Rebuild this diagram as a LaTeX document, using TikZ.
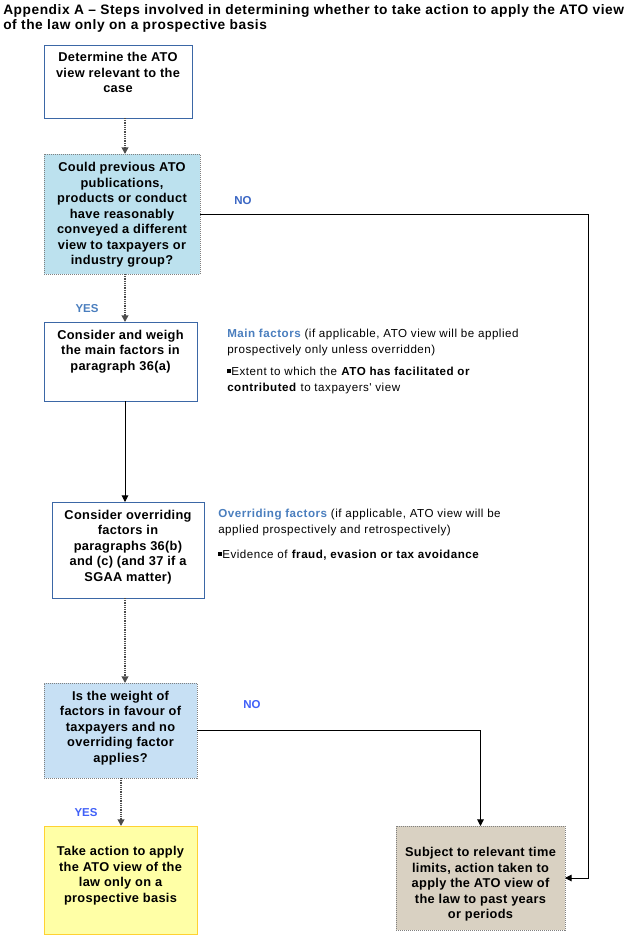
\documentclass[tikz,border=0pt]{standalone}
\usepackage{fontspec}
\setmainfont{Liberation Sans}
\newfontfamily\ttlfont[LetterSpace=4]{Liberation Sans}
\newfontfamily\sidefont[LetterSpace=4.5]{Liberation Sans}
\newfontfamily\boxfont[LetterSpace=2.5]{Liberation Sans}
\usetikzlibrary{arrows.meta}
\definecolor{bordblue}{HTML}{3B67A6}
\definecolor{fillcyan}{HTML}{BCE1EE}
\definecolor{fillblue}{HTML}{C7E0F4}
\definecolor{fillyel}{HTML}{FFFFA6}
\definecolor{bordyel}{HTML}{FFD232}
\definecolor{filltan}{HTML}{D9D1C2}
\definecolor{headblue}{HTML}{4A7EBE}
\definecolor{yesno}{HTML}{3A66C4}
\definecolor{yesnob}{HTML}{4060F8}
\newcommand\boxtxt[4]{\parbox[c][#2][t]{#1}{\vspace*{#3}\centering #4\par}}
\tikzset{
  base/.style={inner sep=0pt, outer sep=0pt, line width=0.75pt, font=\boxfont\fontsize{9.6}{11.6}\selectfont\bfseries},
  whitebox/.style={base, draw=bordblue, fill=white},
  cyanbox/.style={base, draw=gray, fill=fillcyan, dash pattern=on 0.75pt off 0.75pt},
  bluebox/.style={base, draw=gray, fill=fillblue, dash pattern=on 0.75pt off 0.75pt},
  yelbox/.style={base, draw=bordyel, fill=fillyel},
  tanbox/.style={base, draw=gray, fill=filltan, dash pattern=on 0.75pt off 0.75pt},
  dotarrow/.style={draw=black!70, line width=1.4pt, dash pattern=on 0.75pt off 0.6pt, -{Triangle[length=5pt,width=5pt]}},
  solidarrow/.style={draw=black, line width=0.75pt, -{Triangle[length=5pt,width=5pt]}},
  side/.style={inner sep=0pt, anchor=north west, align=left, font=\sidefont\fontsize{8.7}{12}\selectfont},
  yn/.style={inner sep=0pt, font=\fontsize{8.6}{10}\selectfont\bfseries},
  ttl/.style={inner sep=0pt, anchor=north west, align=left, font=\ttlfont\fontsize{10.3}{11.3}\selectfont\bfseries}
}
\newcommand\sqb{\raisebox{1.8pt}{\rule{3pt}{3pt}}}
\begin{document}
\begin{tikzpicture}[x=0.75pt, y=-0.75pt]
\useasboundingbox (0,0) rectangle (629,940);
\fill[white] (0,0) rectangle (629,940);

\node[ttl] (title) at (3,4) {Appendix A – Steps involved in determining whether to take action to apply the ATO view\\of the law only on a prospective basis};

\node[whitebox] (b1) at (118,81.5) {\boxtxt{111pt}{54.75pt}{5.5pt}{Determine the ATO\\view relevant to the\\case}};
\node[cyanbox] (b2) at (122,214) {\boxtxt{117pt}{90pt}{6.3pt}{Could previous ATO\\publications,\\products or conduct\\have reasonably\\conveyed a different\\view to taxpayers or\\industry group?}};
\node[whitebox] (b3) at (120.5,361.5) {\boxtxt{114.75pt}{59.25pt}{6pt}{Consider and weigh\\the main factors in\\paragraph 36(a)}};
\node[whitebox] (b4) at (128,550) {\boxtxt{114pt}{72pt}{6pt}{Consider overriding\\factors in\\paragraphs 36(b)\\and (c) (and 37 if a\\SGAA matter)}};
\node[bluebox] (b5) at (120.5,730.5) {\boxtxt{114.75pt}{71.25pt}{6pt}{Is the weight of\\factors in favour of\\taxpayers and no\\overriding factor\\applies?}};
\node[yelbox] (b7) at (120.5,880) {\boxtxt{114.75pt}{81pt}{15.5pt}{Take action to apply\\the ATO view of the\\law only on a\\prospective basis}};
\node[tanbox] (b6) at (480.5,878) {\boxtxt{126.75pt}{78pt}{16pt}{Subject to relevant time\\limits, action taken to\\apply the ATO view of\\the law to past years\\or periods}};

\node[side] (main) at (227,329) {{\color{headblue}\bfseries Main factors} (if applicable, ATO view will be applied\\prospectively only unless overridden)\\[4.5pt]\sqb Extent to which the \textbf{ATO has facilitated or}\\\textbf{contributed} to taxpayers' view};
\node[side] (over) at (218,509) {{\color{headblue}\bfseries Overriding factors} (if applicable, ATO view will be\\applied prospectively and retrospectively)\\[6.5pt]\sqb Evidence of \textbf{fraud, evasion or tax avoidance}};

\node[yn, text=yesno] (no1) at (243,201) {NO};
\node[yn, text=headblue] (yes1) at (87,309) {YES};
\node[yn, text=yesnob] (no2) at (252,705) {NO};
\node[yn, text=yesnob] (yes2) at (86,813) {YES};

\coordinate (ax) at (125,0);
\coordinate (ax2) at (121,0);
\coordinate (c1) at (588,214);
\draw[dotarrow] (b1.south -| ax) -- (b2.north -| ax);
\draw[dotarrow] (b2.south -| ax) -- (b3.north -| ax);
\draw[solidarrow] (b3.south -| ax) -- (b4.north -| ax);
\draw[dotarrow] (b4.south -| ax) -- (b5.north -| ax);
\draw[dotarrow] (b5.south -| ax2) -- (b7.north -| ax2);
\draw[solidarrow] (b2.east) -- (c1) |- (b6.east);
\draw[solidarrow] (b5.east) -| (b6.north);
\end{tikzpicture}
\end{document}
